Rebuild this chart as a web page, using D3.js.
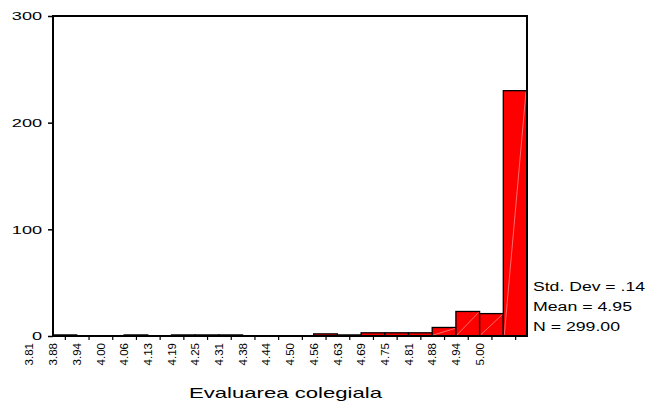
<!DOCTYPE html>
<html>
<head>
<meta charset="utf-8">
<script src="https://cdn.jsdelivr.net/npm/d3@7"></script>
<style>
  html, body { margin: 0; padding: 0; background: #fff; }
  svg { display: block; font-family: "Liberation Sans", Arial, sans-serif; }
</style>
</head>
<body>
<svg id="chart" width="647" height="403"></svg>
<script>
// ---- data ----
const binLabels = ["3.81","3.88","3.94","4.00","4.06","4.13","4.19","4.25","4.31","4.38",
                   "4.44","4.50","4.56","4.63","4.69","4.75","4.81","4.88","4.94","5.00"];
const counts = [1,0,0,1,0,1,1,1,0,0,0,2,1,3,3,3,8,23,21,230];
const yTickValues = [0,100,200,300];
const statLines = ["Std. Dev = .14","Mean = 4.95","N = 299.00"];
const axisTitle = "Evaluarea colegiala";

(function () {
// ---- layout ----
const svg = d3.select("#chart");
const pLeft = 53, pRight = 527, pTop = 16, pBottom = 336;
const nBins = counts.length;

const x = d3.scaleLinear().domain([0, nBins]).range([pLeft, pRight]);
const y = d3.scaleLinear().domain([0, 300]).range([pBottom, pTop]);

const bins = counts.map((c, i) => ({i, c})).filter(d => d.c > 0);

// bars
svg.append("g").selectAll("rect").data(bins).join("rect")
  .attr("x", d => x(d.i))
  .attr("y", d => y(d.c))
  .attr("width", d => x(d.i + 1) - x(d.i))
  .attr("height", d => y(0) - y(d.c))
  .attr("fill", "#ff0000")
  .attr("stroke", "#000")
  .attr("stroke-width", 1.3);

// faint diagonal artifact lines
svg.append("g").selectAll("line").data(bins.filter(d => d.c > 3)).join("line")
  .attr("x1", d => x(d.i) + 1)
  .attr("y1", d => y(0) - 1)
  .attr("x2", d => x(d.i + 1) - 1)
  .attr("y2", d => y(d.c) + 1)
  .attr("stroke", "#ff9a9a")
  .attr("stroke-width", 0.7);

// frame
svg.append("rect")
  .attr("x", pLeft).attr("y", pTop)
  .attr("width", pRight - pLeft).attr("height", pBottom - pTop)
  .attr("fill", "none").attr("stroke", "#000").attr("stroke-width", 2);

// y axis
const yAxis = svg.append("g")
  .attr("transform", `translate(${pLeft},0)`)
  .call(d3.axisLeft(y).tickValues(yTickValues).tickSize(5).tickPadding(0));
yAxis.select(".domain").remove();
yAxis.selectAll(".tick line").attr("stroke", "#000").attr("stroke-width", 1.5);
yAxis.selectAll(".tick text")
  .attr("x", -6.6)
  .attr("dy", "0.36em")
  .attr("transform", "scale(1.65,1)")
  .attr("font-size", 11)
  .attr("font-family", "Liberation Sans, Arial, sans-serif")
  .attr("fill", "#000");

// x axis ticks at bin centres
const xAxis = svg.append("g")
  .attr("transform", `translate(0,${pBottom})`)
  .call(d3.axisBottom(x).tickValues(d3.range(nBins).map(i => i + 0.5)).tickSize(4).tickFormat(""));
xAxis.select(".domain").remove();
xAxis.selectAll(".tick line").attr("stroke", "#000").attr("stroke-width", 1.2);

// x labels (rotated), placed at bin edges as in the original
svg.append("g").selectAll("text").data(binLabels).join("text")
  .attr("transform", (d, j) => `translate(${x(j - 1)},${pBottom + 7}) rotate(-90)`)
  .attr("text-anchor", "end")
  .attr("dy", "0.36em")
  .attr("font-size", 11.5)
  .attr("fill", "#000")
  .text(d => d);

// statistics text
const statWidths = [112, 99, 87];
const statY = [291, 311, 331];
svg.append("g").selectAll("text").data(statLines).join("text")
  .attr("x", 533)
  .attr("y", (d, i) => statY[i])
  .attr("font-size", 12)
  .attr("textLength", (d, i) => statWidths[i])
  .attr("lengthAdjust", "spacingAndGlyphs")
  .attr("fill", "#000")
  .text(d => d);

// axis title
svg.append("text")
  .attr("x", 189)
  .attr("y", 398)
  .attr("font-size", 15)
  .attr("textLength", 193)
  .attr("lengthAdjust", "spacingAndGlyphs")
  .attr("fill", "#000")
  .text(axisTitle);
})();
</script>
</body>
</html>
